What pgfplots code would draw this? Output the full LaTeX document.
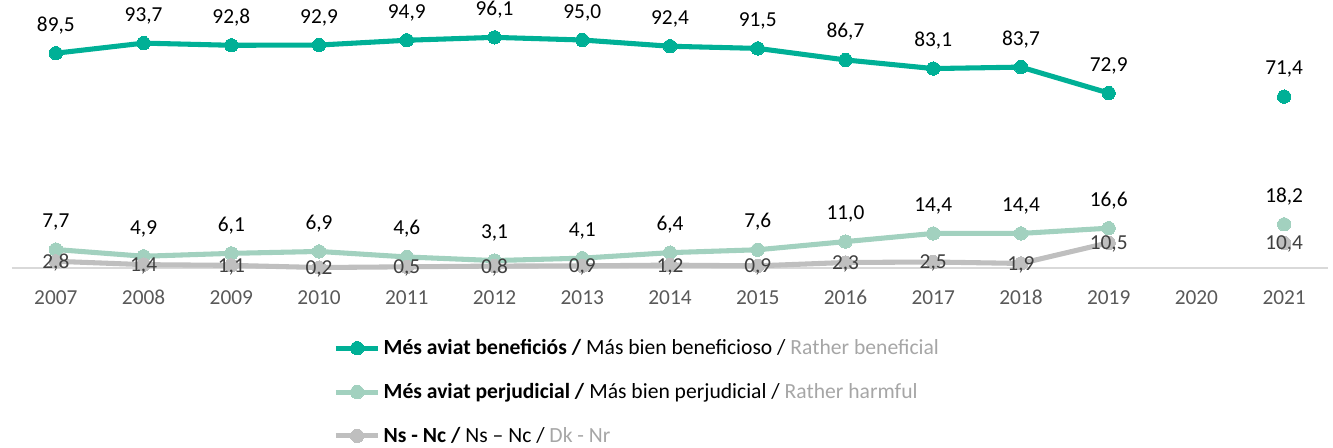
\documentclass[border=0pt]{standalone}
\usepackage{pgfplots}
\pgfplotsset{compat=1.18}
\usepackage{fontspec}
\setmainfont{Carlito}
\definecolor{tealc}{HTML}{00B096}
\definecolor{mint}{HTML}{A2D1BF}
\definecolor{grayl}{HTML}{BFBFBF}
\definecolor{lgtxt}{HTML}{A6A6A6}
\definecolor{ticktxt}{HTML}{595959}
\definecolor{axl}{HTML}{D9D9D9}
\definecolor{glab}{HTML}{404040}
\begin{document}
\begin{tikzpicture}
\begin{axis}[
  name=ax,
  scale only axis,
  width=987pt, height=180pt,
  xmin=2006.5, xmax=2021.5, ymin=0, ymax=100,
  axis y line=none,
  axis x line*=bottom,
  x axis line style={draw=axl, line width=1.2pt, -},
  xtick={2007,2008,2009,2010,2011,2012,2013,2014,2015,2016,2017,2018,2019,2020,2021},
  xticklabels={2007,2008,2009,2010,2011,2012,2013,2014,2015,2016,2017,2018,2019,2020,2021},
  major tick length=0pt,
  xticklabel style={font=\fontsize{16}{19}\selectfont, text=ticktxt, anchor=base, yshift=-27pt},
  clip=false,
  unbounded coords=jump,
  nodes near coords,
  every node near coord/.append style={font=\fontsize{16}{19}\selectfont},
  /pgf/number format/use comma,
  /pgf/number format/fixed,
  /pgf/number format/fixed zerofill,
  /pgf/number format/precision=1,
  /pgf/number format/assume math mode=true,
  legend style={at={(0.241,-0.275)}, anchor=north west, draw=none, fill=none,
    font=\fontsize{16.2}{19}\selectfont, row sep=16pt},
  legend cell align=left,
  legend image code/.code={\draw[mark repeat=2,mark phase=2] plot coordinates {(0cm,0cm)(0.56cm,0cm)(1.12cm,0cm)};},
]
\addplot[color=tealc, line width=3.8pt, mark=*, mark size=5pt, mark options={line width=0pt, fill=tealc},
  every node near coord/.append style={text=black, anchor=base, yshift=16.5pt}]
 coordinates {(2007,89.5)(2008,93.7)(2009,92.8)(2010,92.9)(2011,94.9)(2012,96.1)(2013,95.0)(2014,92.4)(2015,91.5)(2016,86.7)(2017,83.1)(2018,83.7)(2019,72.9)(2020,nan)(2021,71.4)};
\addlegendentry{\textbf{Més aviat beneficiós /} Más bien beneficioso / \textcolor{lgtxt}{Rather beneficial}}
\addplot[color=mint, line width=3.8pt, mark=*, mark size=5pt, mark options={line width=0pt, fill=mint},
  every node near coord/.append style={text=black, anchor=base, yshift=16.5pt}]
 coordinates {(2007,7.7)(2008,4.9)(2009,6.1)(2010,6.9)(2011,4.6)(2012,3.1)(2013,4.1)(2014,6.4)(2015,7.6)(2016,11.0)(2017,14.4)(2018,14.4)(2019,16.6)(2020,nan)(2021,18.2)};
\addlegendentry{\textbf{Més aviat perjudicial /} Más bien perjudicial / \textcolor{lgtxt}{Rather harmful}}
\addplot[color=grayl, line width=3.8pt, mark=*, mark size=5pt, mark options={line width=0pt, fill=grayl},
  every node near coord/.append style={text=glab, anchor=center, yshift=-1pt}]
 coordinates {(2007,2.8)(2008,1.4)(2009,1.1)(2010,0.2)(2011,0.5)(2012,0.8)(2013,0.9)(2014,1.2)(2015,0.9)(2016,2.3)(2017,2.5)(2018,1.9)(2019,10.5)(2020,nan)(2021,10.4)};
\addlegendentry{\textbf{Ns - Nc /} Ns – Nc / \textcolor{lgtxt}{Dk - Nr}}
\end{axis}
\pgfresetboundingbox
\path (ax.south west) ++(-9pt,-134.25pt) rectangle ++(999.75pt,335.25pt);
\end{tikzpicture}
\end{document}
